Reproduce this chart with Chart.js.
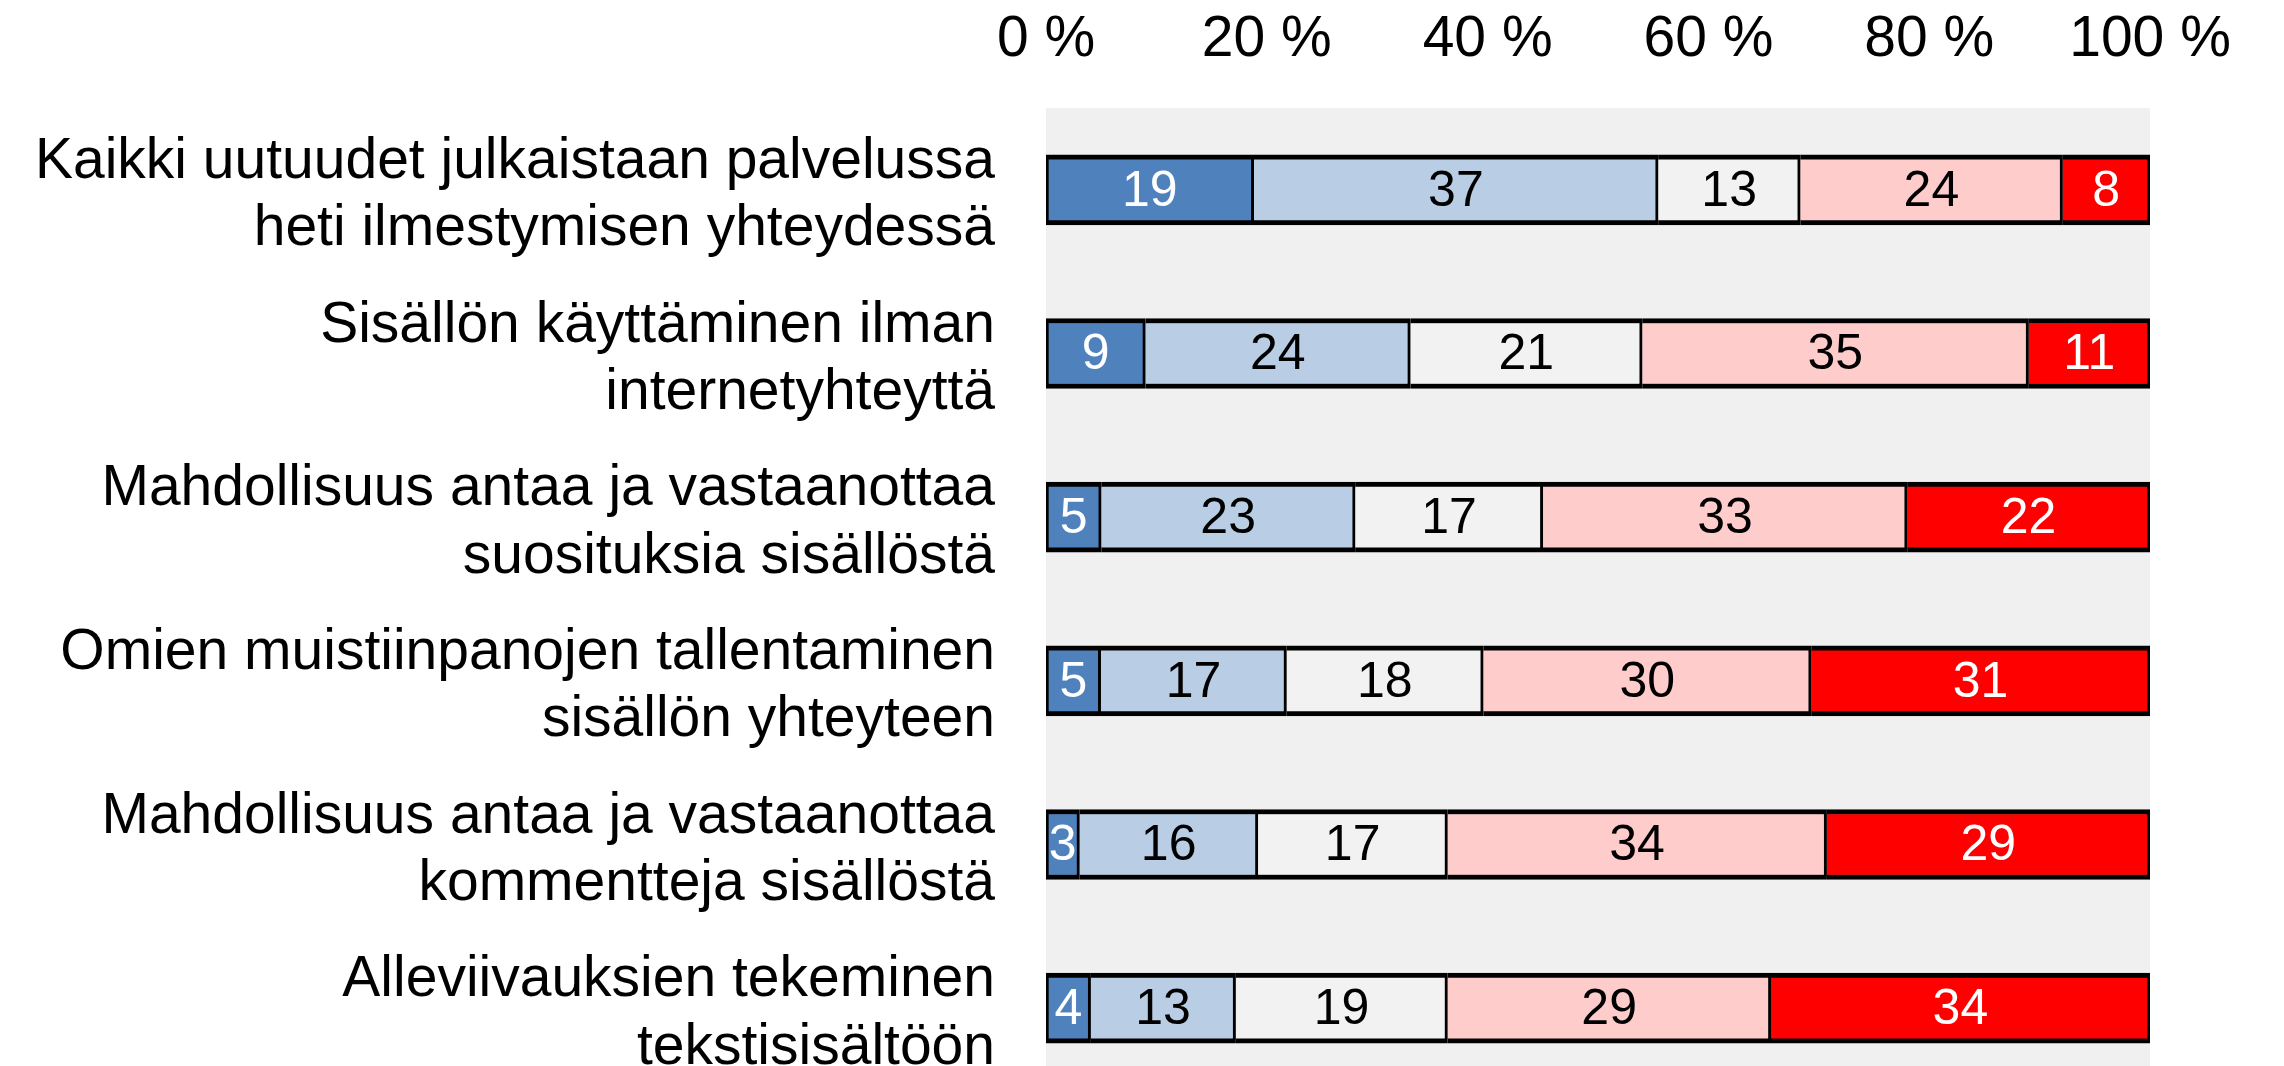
<!DOCTYPE html>
<html>
<head>
<meta charset="utf-8">
<script src="https://cdn.jsdelivr.net/npm/chart.js@4/dist/chart.umd.min.js"></script>
<style>
  html, body { margin: 0; padding: 0; background: #fff; overflow: hidden; }
  canvas { display: block; }
</style>
</head>
<body>
<canvas id="chart" width="2284" height="1100"></canvas>
<script>
const categories = [
    ['Kaikki uutuudet julkaistaan palvelussa', 'heti ilmestymisen yhteydessä'],
    ['Sisällön käyttäminen ilman', 'internetyhteyttä'],
    ['Mahdollisuus antaa ja vastaanottaa', 'suosituksia sisällöstä'],
    ['Omien muistiinpanojen tallentaminen', 'sisällön yhteyteen'],
    ['Mahdollisuus antaa ja vastaanottaa', 'kommentteja sisällöstä'],
    ['Alleviivauksien tekeminen', 'tekstisisältöön']
];

// answer shares per row, left to right
const veryImportant = [19, 9, 5, 5, 3, 4];
const important     = [37, 24, 23, 17, 16, 13];
const neutral       = [13, 21, 17, 18, 17, 19];
const lessImportant = [24, 35, 33, 30, 34, 29];
const notImportant  = [8, 11, 22, 31, 29, 34];

const tickValues = [0, 20, 40, 60, 80, 100];

const series = [veryImportant, important, neutral, lessImportant, notImportant];
const fills = ['#4F81BD', '#B9CDE5', '#F2F2F2', '#FFCCCC', '#FF0000'];
const textColors = ['#fff', '#000', '#000', '#000', '#fff'];

// rows are drawn as 100 % stacks
const rowSums = categories.map((c, i) => series.reduce((s, arr) => s + arr[i], 0));

const datasets = series.map((arr, k) => ({
    data: arr.map((v, i) => v / rowSums[i] * 100),
    raw: arr,
    backgroundColor: fills[k],
    borderColor: '#000',
    borderWidth: {top: 5, bottom: 5, left: 3, right: 3},
    borderSkipped: k === 0 ? false : 'start',
    barThickness: 70
}));

const plotBg = {
    id: 'plotBg',
    beforeDraw(chart) {
        const a = chart.chartArea, ctx = chart.ctx;
        ctx.save();
        ctx.fillStyle = '#F0F0F0';
        ctx.fillRect(a.left, a.top, a.right - a.left, a.bottom - a.top);
        ctx.restore();
    }
};

const segLabels = {
    id: 'segLabels',
    afterDatasetsDraw(chart) {
        const ctx = chart.ctx;
        ctx.save();
        ctx.font = '50px "Liberation Sans", Arial, sans-serif';
        ctx.textAlign = 'center';
        ctx.textBaseline = 'middle';
        chart.data.datasets.forEach((ds, k) => {
            chart.getDatasetMeta(k).data.forEach((bar, i) => {
                ctx.fillStyle = textColors[k];
                ctx.fillText(String(ds.raw[i]), (bar.x + bar.base) / 2, bar.y + 2);
            });
        });
        ctx.restore();
    }
};

new Chart(document.getElementById('chart'), {
    type: 'bar',
    data: { labels: categories, datasets: datasets },
    options: {
        indexAxis: 'y',
        responsive: false,
        animation: false,
        layout: { padding: { bottom: 10, right: 134 } },
        plugins: { legend: { display: false }, tooltip: { enabled: false } },
        scales: {
            x: {
                position: 'top',
                stacked: true,
                min: 0,
                max: 100,
                afterFit: s => { s.height = 108; s.paddingLeft = 0; s.paddingRight = 0; },
                afterBuildTicks: s => { s.ticks = tickValues.map(v => ({ value: v })); },
                grid: { display: false, drawTicks: false },
                border: { display: false },
                ticks: {
                    padding: 34,
                    color: '#000',
                    font: { family: '"Liberation Sans", Arial, sans-serif', size: 57 },
                    callback: v => v + ' %'
                }
            },
            y: {
                stacked: true,
                afterFit: s => { s.width = 1046; s.paddingTop = 0; s.paddingBottom = 0; },
                grid: { display: false, drawTicks: false },
                border: { display: false },
                ticks: {
                    padding: 51,
                    labelOffset: 6,
                    color: '#000',
                    font: { family: '"Liberation Sans", Arial, sans-serif', size: 57, lineHeight: 1.18 }
                }
            }
        }
    },
    plugins: [plotBg, segLabels]
});
</script>
</body>
</html>
